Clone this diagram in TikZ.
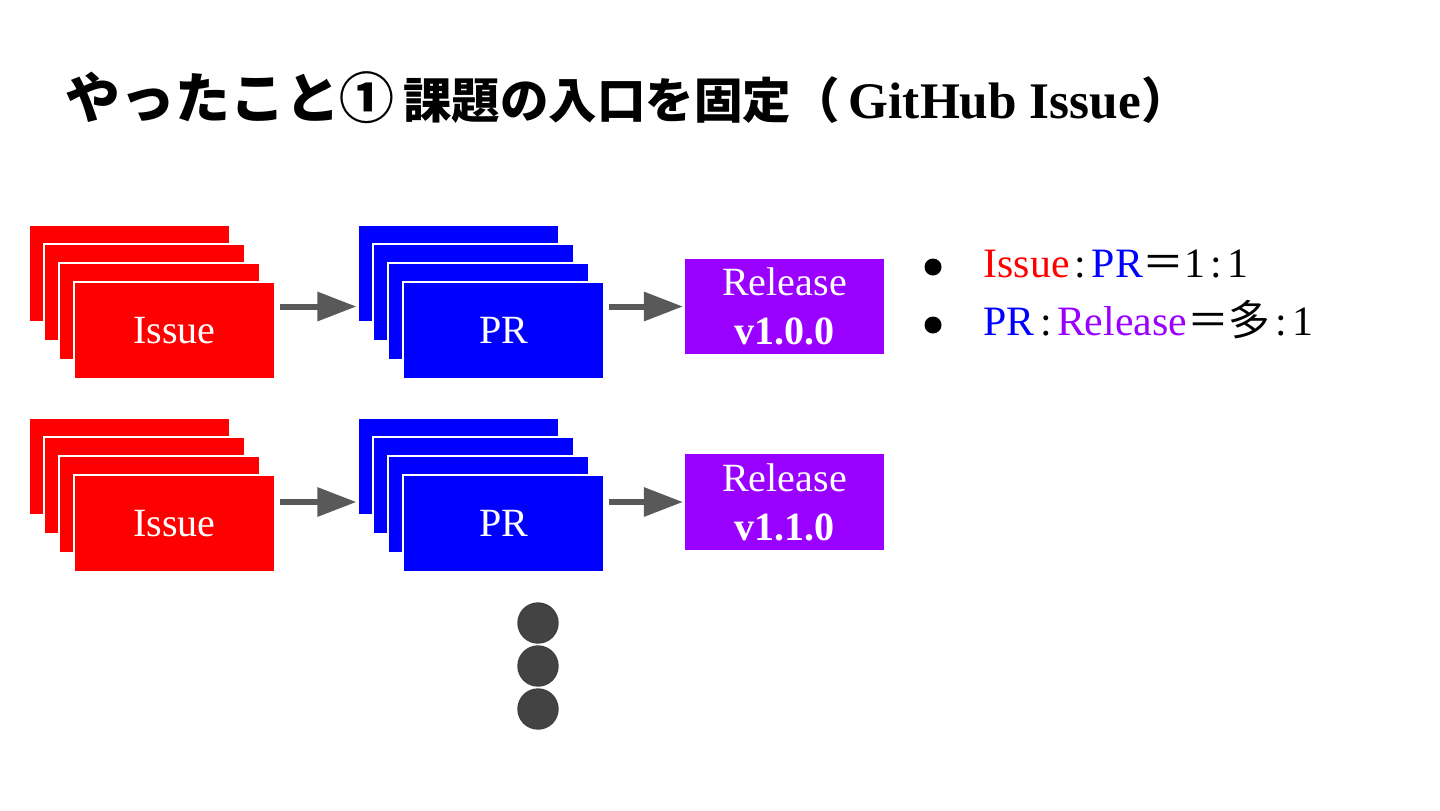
\documentclass[tikz,border=0pt]{standalone}
\usepackage{fontspec}
\setmainfont{Liberation Serif}
\newfontfamily\jp{Noto Sans CJK JP}
\usepackage{tikz}
\usetikzlibrary{arrows.meta,positioning,shapes.geometric}
\definecolor{issuered}{HTML}{FF0000}
\definecolor{prblue}{HTML}{0000FF}
\definecolor{relpurple}{HTML}{9900FF}
\definecolor{arrowgray}{HTML}{595959}
\definecolor{dotgray}{HTML}{434343}
\tikzstyle{card}=[rectangle,draw=white,line width=0.3pt,inner sep=0pt,minimum width=2.01cm,minimum height=0.97cm,text=white,font=\fontsize{11.4}{13.9}\selectfont]
\tikzstyle{issue}=[card,fill=issuered]
\tikzstyle{pr}=[card,fill=prblue]
\tikzstyle{release}=[card,fill=relpurple,minimum width=2cm,align=center]
\tikzstyle{flow}=[color=arrowgray,line width=0.06cm,-{Triangle[length=3.9mm,width=2.8mm]},shorten <=0.04cm,shorten >=0.01cm]
\tikzstyle{bigdot}=[circle,fill=dotgray,draw=black!75,line width=0.4pt,minimum size=0.4cm,inner sep=0pt]
\tikzstyle{bul}=[circle,fill=black,minimum size=0.17cm,inner sep=0pt]
\newcommand{\rsep}{\kern1.5pt:\kern1.5pt}
\begin{document}
\begin{tikzpicture}
  \useasboundingbox (0,0) rectangle (14.4,-8.1);
  % title
  \node[anchor=base west,inner sep=0pt] (title) at (0.65,-1.18)
    {{\jp\bfseries\fontsize{15.6}{18}\selectfont やったこと①} {\jp\bfseries\fontsize{13.8}{16}\selectfont 課題の入口を固定（} {\bfseries\fontsize{14.6}{16}\selectfont GitHub Issue}{\jp\bfseries\fontsize{13.8}{16}\selectfont ）}};
  % two rows of issue -> PR -> release
  \foreach \r/\dy/\ry/\ver in {1/0/3.065/v1.0.0, 2/1.93/5.02/v1.1.0} {
    \foreach \k/\t in {0/,1/,2/,3/Issue}
      \node[issue] (is\r\k) at ({1.295+0.15*\k},{-2.735-0.19*\k-\dy}) {\t};
    \foreach \k/\t in {0/,1/,2/,3/PR}
      \node[pr] (pr\r\k) at ({4.585+0.15*\k},{-2.735-0.19*\k-\dy}) {\t};
    \node[release] (rel\r) at (7.845,-\ry) {Release\\\textbf{\ver}};
    \path
    (is\r3.east |- rel\r) edge[flow] (pr\r0.west |- rel\r)
    (pr\r3.east |- rel\r) edge[flow] (rel\r);
  }
  % more to come
  \foreach \y [count=\n] in {6.23,6.66,7.09}
    \node[bigdot] (dot\n) at (5.38,-\y) {};
  % ratios
  \node[bul] (b1) at (9.33,-2.67) {};
  \node[bul] (b2) at (9.33,-3.25) {};
  \node[anchor=base west,inner sep=0pt,font=\fontsize{11.9}{14}\selectfont] (t1) at (9.83,-2.77)
    {\textcolor{issuered}{Issue}\rsep\textcolor{prblue}{PR}{\jp＝}1\rsep 1};
  \node[anchor=base west,inner sep=0pt,font=\fontsize{11.9}{14}\selectfont] (t2) at (9.83,-3.35)
    {\textcolor{prblue}{PR}\rsep\textcolor{relpurple}{Release}{\jp＝多}\rsep 1};
\end{tikzpicture}
\end{document}
